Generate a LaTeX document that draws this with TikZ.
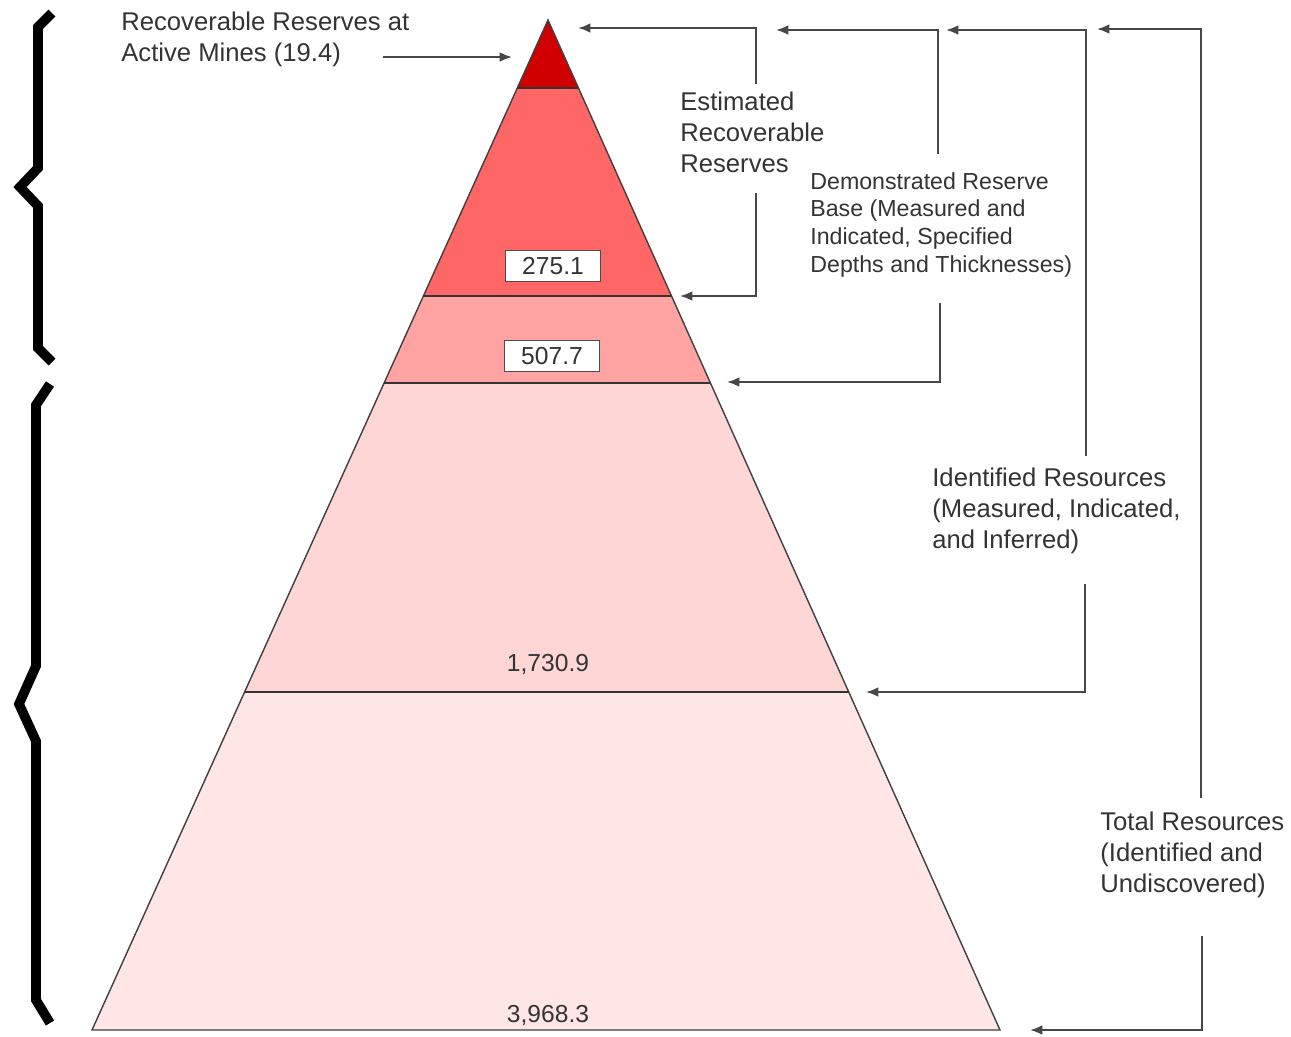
\documentclass[tikz,border=0pt]{standalone}
\usepackage{fontspec}
\setmainfont{Liberation Sans}
\usetikzlibrary{arrows.meta,calc}

\definecolor{bandA}{HTML}{D00000}
\definecolor{bandB}{HTML}{FF6666}
\definecolor{bandC}{HTML}{FFA3A3}
\definecolor{bandD}{HTML}{FFD6D6}
\definecolor{bandE}{HTML}{FFE6E6}
\definecolor{txt}{HTML}{333333}

\begin{document}
\begin{tikzpicture}[x=0.02cm,y=-0.02cm,
    conn/.style={draw=black!72,line width=1.1pt,-{Latex[length=7pt,width=5.5pt]}},
    lbl/.style={text=txt,align=left,inner sep=0pt,anchor=north west,
      font=\fontsize{14.6}{17.4}\selectfont},
    small/.style={font=\fontsize{13.2}{15.8}\selectfont},
    valbox/.style={draw=black!70,line width=1pt,fill=white,text=txt,
      minimum width=1.9cm,minimum height=0.62cm,inner sep=1pt,
      font=\fontsize{14}{16}\selectfont},
    val/.style={text=txt,inner sep=0pt,font=\fontsize{14}{16}\selectfont},
    sep/.style={draw=black!80,line width=1.3pt},
    outline/.style={draw=black!75,line width=0.8pt},
    bracket/.style={draw=black,line width=5.5pt,line join=miter}]
  \useasboundingbox (0,0) rectangle (1291,1036);

  % corners of the pyramid
  \coordinate (apex) at (548,20);
  \coordinate (bl) at (92,1030);
  \coordinate (br) at (1000,1030);
  % band limits
  \foreach \n/\t in {a/0.0673,b/0.2733,c/0.3594,d/0.6653}{
    \coordinate (l\n) at ($(apex)!\t!(bl)$);
    \coordinate (r\n) at ($(apex)!\t!(br)$);
  }

  % bands
  \fill[bandE] (ld) -- (rd) -- (br) -- (bl) -- cycle;
  \fill[bandD] (lc) -- (rc) -- (rd) -- (ld) -- cycle;
  \fill[bandC] (lb) -- (rb) -- (rc) -- (lc) -- cycle;
  \fill[bandB] (la) -- (ra) -- (rb) -- (lb) -- cycle;
  \fill[bandA] (apex) -- (ra) -- (la) -- cycle;
  \draw[outline] (apex) -- (br) -- (bl) -- cycle;
  \foreach \n in {a,b,c,d}
    \draw[sep] (l\n) -- (r\n);

  % values
  \node[valbox] (v275) at (553,266) {275.1};
  \node[valbox] (v507) at (552,356) {507.7};
  \node[val] (v1730) at (548,664) {1,730.9};
  \node[val] (v3968) at (548,1015) {3,968.3};

  % braces
  \draw[bracket] (52,13) -- (38,27) -- (38,168) -- (20,187) -- (38,206) -- (38,348) -- (52,362);
  \draw[bracket] (50,384) -- (36,405) -- (36,666) -- (19,704) -- (36,741) -- (36,1000) -- (50,1023);

  % labels
  \node[lbl] (mines) at (121,12) {Recoverable Reserves at\\Active Mines (19.4)};
  \node[lbl] (est) at (680,92) {Estimated\\Recoverable\\Reserves};
  \node[lbl,small] (demo) at (810,172) {Demonstrated Reserve\\Base (Measured and\\Indicated, Specified\\Depths and Thicknesses)};
  \node[lbl] (ident) at (932,468) {Identified Resources\\(Measured, Indicated,\\and Inferred)};
  \node[lbl] (total) at (1100,812) {Total Resources\\(Identified and\\Undiscovered)};

  % arrow tips
  \coordinate (minestail) at (383,57);
  \coordinate (minestip) at (512,57);
  \coordinate (esttip) at (578,28);
  \coordinate (estlow) at (680,296);
  \coordinate (demotip) at (776,30);
  \coordinate (demolow) at (727,382);
  \coordinate (identtip) at (946,30);
  \coordinate (identlow) at (866,692);
  \coordinate (totaltip) at (1097,29);
  \coordinate (totallow) at (1030,1030);

  % connectors
  \draw[conn] (minestail) -- (minestip);
  \draw[conn] ($(est.north -| 756,0)+(0,-8)$) |- (esttip);
  \draw[conn] ($(est.south -| 756,0)+(0,20)$) |- (estlow);
  \draw[conn] ($(demo.north -| 938,0)+(0,-18)$) |- (demotip);
  \draw[conn] ($(demo.south -| 940,0)+(0,25)$) |- (demolow);
  \draw[conn] ($(ident.north -| 1086,0)+(0,-12)$) |- (identtip);
  \draw[conn] ($(ident.south -| 1085,0)+(0,30)$) |- (identlow);
  \draw[conn] ($(total.north -| 1201,0)+(0,-14)$) |- (totaltip);
  \draw[conn] ($(total.south -| 1202,0)+(0,38)$) |- (totallow);
\end{tikzpicture}
\end{document}
